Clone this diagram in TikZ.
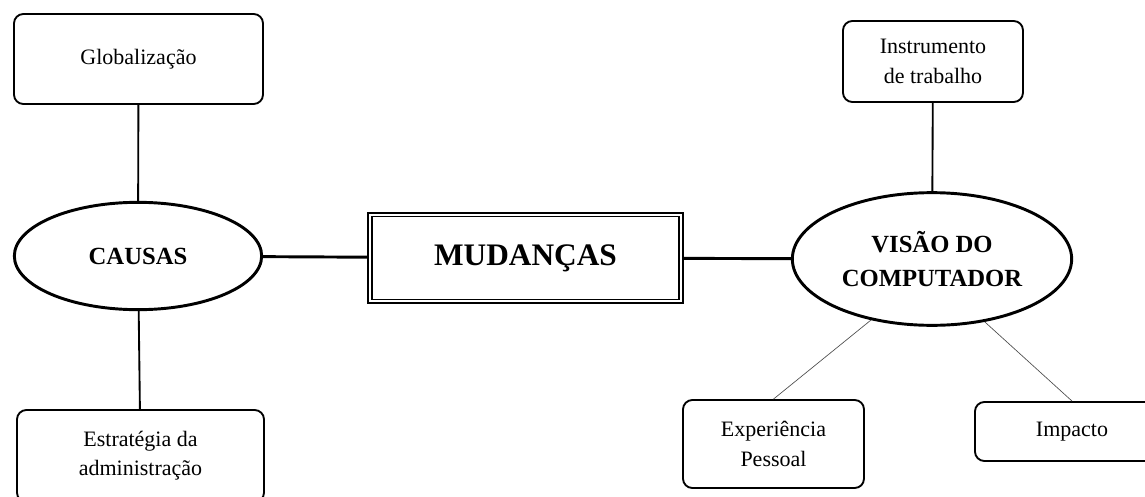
\documentclass[tikz,border=0pt]{standalone}
\usepackage{fontspec}
\setmainfont{Liberation Serif}
\usepackage{tikz}
\usetikzlibrary{shapes}
\tikzset{
  ideanode/.style={draw, rounded corners=7pt, line width=1.4pt, align=center,
    font=\fontsize{16.5}{22}\selectfont},
  themenode/.style={draw, ellipse, line width=2.2pt, align=center, inner sep=0pt,
    font=\fontsize{18.5}{25}\selectfont\bfseries},
  centernode/.style={draw, double, double distance=1.6pt, line width=1.3pt,
    minimum width=233.5pt, minimum height=65pt,
    font=\fontsize{23.5}{28}\selectfont\bfseries},
  thicklink/.style={line width=2.2pt},
  vlink/.style={line width=1.4pt},
  thinlink/.style={line width=0.5pt, black!70}
}
\begin{document}
\begin{tikzpicture}[x=0.75pt, y=-0.75pt]
  \useasboundingbox (0,0) rectangle (1145,496);

  \node[centernode] (mud) at (525.5,258) {MUDAN\c{C}AS};

  \node[themenode, minimum width=185.5pt, minimum height=80.5pt] (causas) at (138,256) {CAUSAS};
  \node[ideanode, minimum width=186.75pt, minimum height=67.5pt] (glob) at (138.5,59) {Globalização};
  \node[ideanode, minimum width=185.25pt, minimum height=69pt] (estr) at (140.5,456) {Estratégia da\\administração};

  \node[themenode, minimum width=209.5pt, minimum height=99.5pt] (visao) at (932,259) {VISÃO DO\\COMPUTADOR};
  \node[ideanode, minimum width=135pt, minimum height=60.75pt] (instr) at (933,61.5) {Instrumento\\de trabalho};
  \node[ideanode, minimum width=135.75pt, minimum height=66pt] (exp) at (773.5,444) {Experiência\\Pessoal};
  \node[ideanode, minimum width=145.5pt, minimum height=44.25pt] (imp) at (1072,431.5) {Impacto};

  \draw[vlink] (glob) -- (causas);
  \draw[vlink] (causas) -- (estr);
  \draw[thicklink] (causas) -- (mud);
  \draw[thicklink] (mud) -- (visao);
  \draw[vlink] (instr) -- (visao);
  \draw[thinlink] (visao.225) -- (exp.north);
  \draw[thinlink] (visao.310) -- (imp.north);
\end{tikzpicture}
\end{document}
